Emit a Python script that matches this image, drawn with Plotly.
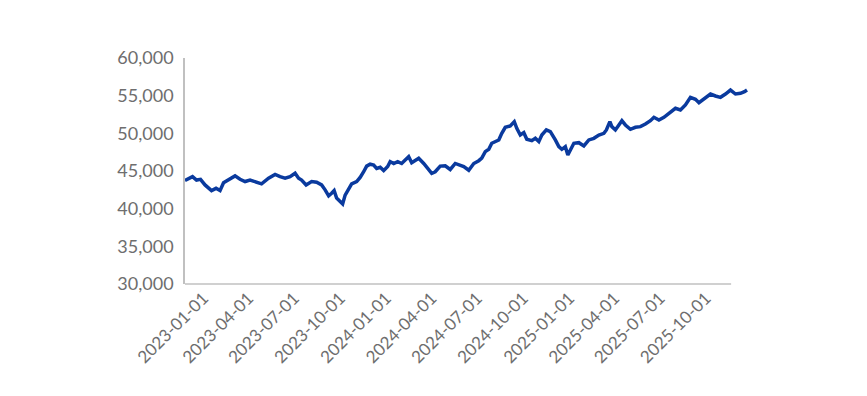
import plotly.graph_objects as go

dates = [
    "2022-11-25", "2022-12-10", "2022-12-18", "2022-12-26", "2023-01-04", "2023-01-17",
    "2023-01-26", "2023-02-03", "2023-02-10", "2023-02-20", "2023-03-05", "2023-03-15",
    "2023-03-25", "2023-04-04", "2023-04-14", "2023-04-27", "2023-05-11", "2023-05-24",
    "2023-06-03", "2023-06-13", "2023-06-23", "2023-07-03", "2023-07-10", "2023-07-16",
    "2023-07-25", "2023-08-05", "2023-08-15", "2023-08-25", "2023-09-01", "2023-09-08",
    "2023-09-14", "2023-09-19", "2023-09-24", "2023-10-01", "2023-10-06", "2023-10-11",
    "2023-10-18", "2023-10-24", "2023-11-03", "2023-11-10", "2023-11-17", "2023-11-23",
    "2023-11-30", "2023-12-07", "2023-12-13", "2023-12-20", "2023-12-27", "2024-01-04",
    "2024-01-09", "2024-01-16", "2024-01-24", "2024-02-01", "2024-02-08", "2024-02-15",
    "2024-02-21", "2024-02-28", "2024-03-06", "2024-03-16", "2024-03-26", "2024-04-01",
    "2024-04-08", "2024-04-18", "2024-04-28", "2024-05-08", "2024-05-18", "2024-05-25",
    "2024-06-04", "2024-06-14", "2024-06-24", "2024-07-04", "2024-07-10", "2024-07-17",
    "2024-07-24", "2024-07-30", "2024-08-06", "2024-08-13", "2024-08-19", "2024-08-26",
    "2024-09-05", "2024-09-13", "2024-09-18", "2024-09-25", "2024-10-02", "2024-10-08",
    "2024-10-18", "2024-10-25", "2024-11-01", "2024-11-07", "2024-11-16", "2024-11-24",
    "2024-12-04", "2024-12-11", "2024-12-17", "2024-12-24", "2024-12-29", "2025-01-03",
    "2025-01-10", "2025-01-20", "2025-01-30", "2025-02-09", "2025-02-19", "2025-03-01",
    "2025-03-11", "2025-03-16", "2025-03-23", "2025-03-27", "2025-04-03", "2025-04-10",
    "2025-04-16", "2025-04-23", "2025-05-03", "2025-05-13", "2025-05-23", "2025-06-02",
    "2025-06-12", "2025-06-19", "2025-06-29", "2025-07-09", "2025-07-19", "2025-08-01",
    "2025-08-11", "2025-08-21", "2025-08-31", "2025-09-10", "2025-09-17", "2025-09-27",
    "2025-10-10", "2025-10-20", "2025-10-30", "2025-11-09", "2025-11-19", "2025-11-29",
    "2025-12-09", "2025-12-17", "2025-12-22",
]

values = [
    43750, 44250, 43800, 43900, 43150, 42400,
    42700, 42400, 43450, 43800, 44350, 43900,
    43600, 43800, 43600, 43300, 44050, 44550,
    44250, 44050, 44250, 44700, 44050, 43800,
    43150, 43600, 43500, 43150, 42500, 41700,
    42050, 42400, 41400, 40950, 40630, 41800,
    42700, 43300, 43600, 44150, 44900, 45650,
    45900, 45800, 45350, 45500, 45050, 45600,
    46250, 46000, 46250, 46000, 46450, 46900,
    46100, 46450, 46700, 46000, 45100, 44700,
    44900, 45650, 45700, 45200, 46000, 45800,
    45580, 45100, 46000, 46370, 46700, 47570,
    47880, 48680, 48900, 49120, 50000, 50800,
    50980, 51550, 50670, 49780, 50090, 49210,
    49030, 49340, 48900, 49780, 50450, 50220,
    49120, 48230, 47880, 48230, 47130, 47790,
    48680, 48760, 48320, 49120, 49340, 49780,
    50000, 50450, 51550, 50890, 50450, 51110,
    51680, 51110, 50540, 50800, 50890, 51240,
    51680, 52130, 51770, 52130, 52660, 53330,
    53100, 53760, 54780, 54520, 54070, 54520,
    55220, 54960, 54780, 55220, 55750, 55220,
    55310, 55530, 55750,
]

tick_dates = [
    "2023-01-01", "2023-04-01", "2023-07-01", "2023-10-01",
    "2024-01-01", "2024-04-01", "2024-07-01", "2024-10-01",
    "2025-01-01", "2025-04-01", "2025-07-01", "2025-10-01",
]

y_ticks = [30000, 35000, 40000, 45000, 50000, 55000, 60000]

fig = go.Figure()
fig.add_trace(go.Scatter(
    x=dates, y=values, mode="lines",
    line=dict(color="#0a3a9e", width=3.5),
    hoverinfo="skip",
))

font_family = "Lato, 'Open Sans', sans-serif"
label_color = "#6e6e6e"
fig.update_layout(
    width=867, height=396,
    margin=dict(l=177, r=127, t=50, b=120, autoexpand=False),
    paper_bgcolor="white", plot_bgcolor="white",
    showlegend=False,
    font=dict(family=font_family, color=label_color, size=17),
    xaxis=dict(
        type="date",
        range=["2022-11-25", "2025-12-24"],
        tickmode="array",
        tickvals=tick_dates,
        ticktext=tick_dates,
        tickangle=-45,
        automargin=False,
        showgrid=False, zeroline=False, showline=False,
        ticks="", tickfont=dict(size=17, color=label_color),
    ),
    yaxis=dict(
        range=[30000, 60000],
        tickmode="array",
        tickvals=y_ticks,
        ticktext=[f"{v:,}" for v in y_ticks],
        automargin=False,
        showgrid=False, zeroline=False,
        showline=True, linecolor="#c0c0c0", linewidth=1.5,
        ticks="", tickfont=dict(size=18, color=label_color),
        ticklabelstandoff=6,
    ),
    shapes=[dict(
        type="line", xref="paper", yref="paper",
        x0=0, x1=0.97, y0=0, y1=0,
        line=dict(color="#c0c0c0", width=1.5),
        layer="below",
    )],
)

fig.write_html("out.html")
